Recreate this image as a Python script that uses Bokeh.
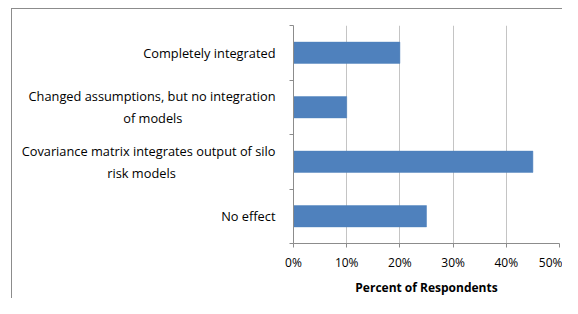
from bokeh.plotting import figure
from bokeh.models import FixedTicker, NumeralTickFormatter, Range1d
from bokeh.embed import file_html
from bokeh.resources import INLINE

# data (bottom to top)
categories = ["No effect",
              "Covariance matrix integrates output of silo\nrisk models",
              "Changed assumptions, but no integration\nof models",
              "Completely integrated"]
values = [0.25, 0.45, 0.10, 0.20]
x_ticks = [0, 0.1, 0.2, 0.3, 0.4, 0.5]

ypos = [i + 0.5 for i in range(len(categories))]

FONT = "Open Sans"
NBSP = "\u00a0"
# padding (in no-break spaces) to centre the second line of wrapped labels
second_line_pad = {1: 30, 2: 28}


def tick_text(i, text):
    lines = text.split("\n")
    if len(lines) > 1:
        lines[1] = lines[1] + NBSP * second_line_pad.get(i, 0)
    return "\n".join(lines)


frame_css = {
    "background-color": "white",
    "background-image": "linear-gradient(#8c8c8c, #8c8c8c), linear-gradient(#8c8c8c, #8c8c8c)",
    "background-size": "100% 1px, 1px 100%",
    "background-position": "11px 8px, 11px 8px",
    "background-repeat": "no-repeat",
}

p = figure(width=562, height=298,
           min_border_left=293, min_border_right=3,
           min_border_top=25, min_border_bottom=50,
           x_range=Range1d(0, 0.5), y_range=Range1d(0, len(categories)),
           output_backend="svg", toolbar_location=None, styles=frame_css)

p.border_fill_color = None
p.background_fill_color = "white"

p.hbar(y=ypos, right=values, left=0, height=0.39,
       fill_color="#4f81bd", line_color="#4f81bd", line_width=0.5)

p.outline_line_color = None
p.ygrid.visible = False
p.xgrid.grid_line_color = "#c4c4c4"
p.xgrid.grid_line_width = 1
p.xgrid.ticker = FixedTicker(ticks=x_ticks)

xa = p.xaxis[0]
xa.ticker = FixedTicker(ticks=x_ticks)
xa.formatter = NumeralTickFormatter(format="0%")
xa.axis_line_color = "#8c8c8c"
xa.major_tick_line_color = "#8c8c8c"
xa.major_tick_out = 4
xa.major_tick_in = 0
xa.minor_tick_line_color = None
xa.major_label_text_font = FONT
xa.major_label_text_font_size = "12px"
xa.major_label_text_color = "#000000"
xa.major_label_standoff = 6
xa.axis_label = "Percent of Respondents"
xa.axis_label_text_font = FONT
xa.axis_label_text_font_size = "12px"
xa.axis_label_text_font_style = "bold"
xa.axis_label_text_color = "#000000"
xa.axis_label_standoff = 5

ya = p.yaxis[0]
ya.ticker = FixedTicker(ticks=ypos, minor_ticks=list(range(len(categories) + 1)))
ya.major_label_overrides = {y: tick_text(i, c) for i, (y, c) in enumerate(zip(ypos, categories))}
ya.axis_line_color = "#8c8c8c"
ya.major_tick_line_color = None
ya.major_tick_out = 0
ya.major_tick_in = 0
ya.minor_tick_line_color = "#8c8c8c"
ya.minor_tick_out = 4
ya.minor_tick_in = 0
ya.major_label_text_font = FONT
ya.major_label_text_font_size = "12.8px"
ya.major_label_text_color = "#000000"
ya.major_label_standoff = 14

open("out.html", "w").write(file_html(p, INLINE))
